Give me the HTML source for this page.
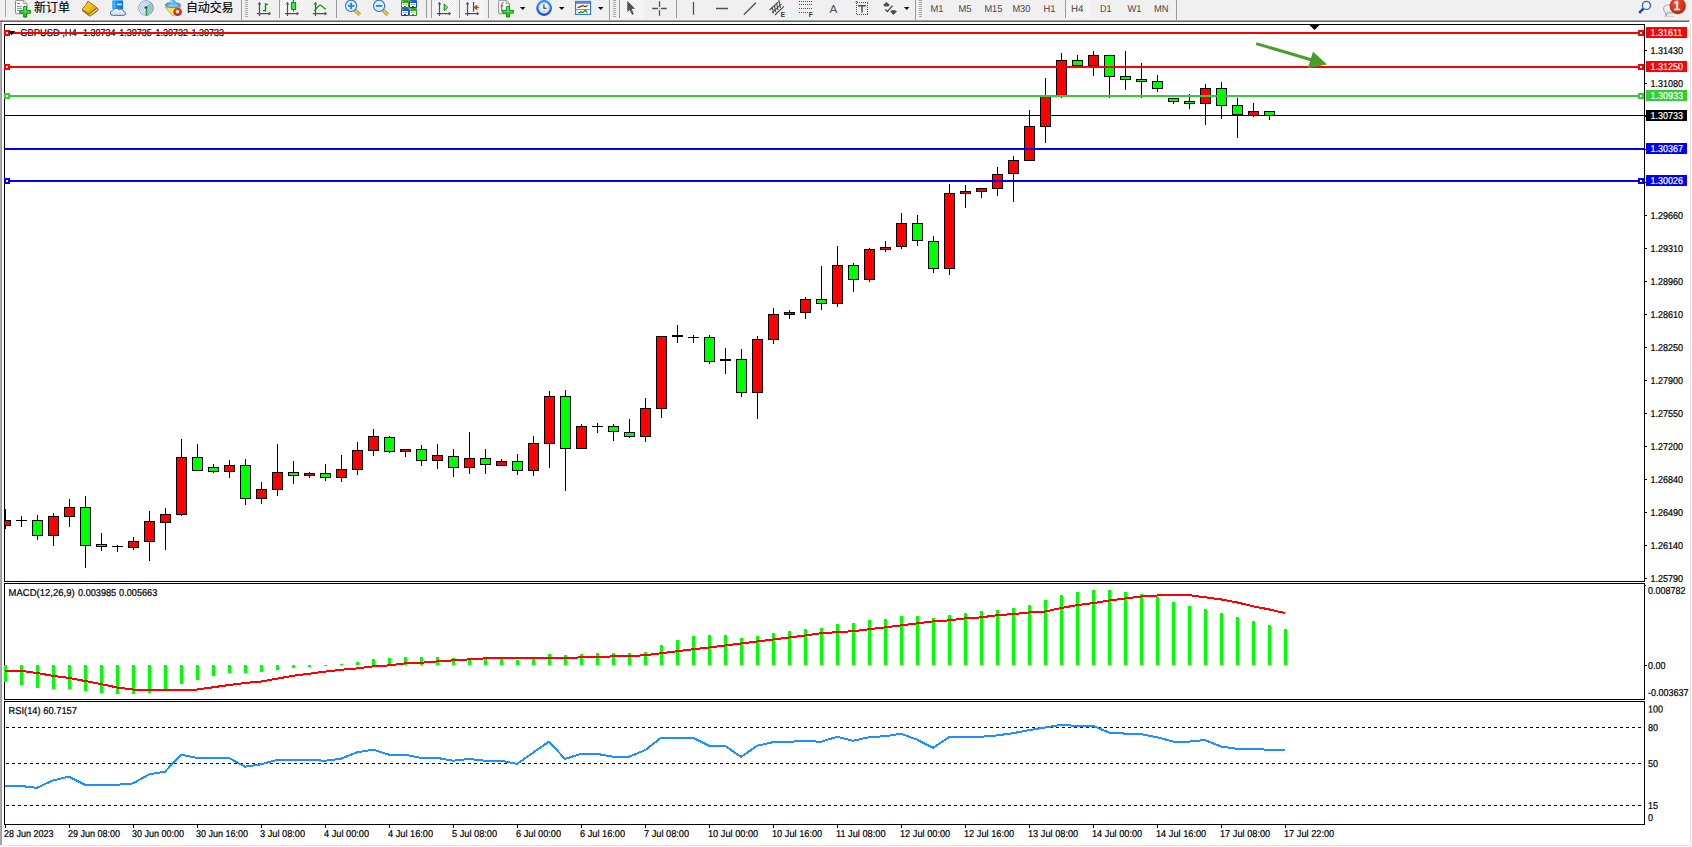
<!DOCTYPE html>
<html><head><meta charset="utf-8"><title>GBPUSD,H4</title>
<style>
html,body{margin:0;padding:0;background:#fff;overflow:hidden}
body{width:1692px;height:847px}
svg{display:block}
text{font-family:"Liberation Sans","Noto Sans CJK SC",sans-serif;white-space:pre}
</style></head><body>
<svg width="1692" height="847" viewBox="0 0 1692 847">
<rect x="0" y="0" width="1692" height="847" fill="#fff"/>
<rect x="0" y="0" width="1692" height="20" fill="#f0f0f0"/>
<rect x="0" y="19" width="1692" height="1" fill="#f5f5f5"/>
<rect x="0" y="20" width="1690" height="1" fill="#a0a0a0"/>
<rect x="0" y="21" width="1689" height="1" fill="#696969"/>
<rect x="0" y="22" width="1" height="823" fill="#ababab"/>
<rect x="1" y="22" width="1" height="823" fill="#999"/>
<rect x="1690" y="22" width="1" height="824" fill="#e3e3e3"/>
<rect x="2" y="845" width="1689" height="1" fill="#e3e3e3"/>
<defs>
<pattern id="chk" width="2" height="2" patternUnits="userSpaceOnUse"><rect width="2" height="2" fill="#fff"/><rect width="1" height="1" fill="#ececec"/><rect x="1" y="1" width="1" height="1" fill="#ececec"/></pattern>
<linearGradient id="gplus" x1="0" y1="0" x2="0" y2="1"><stop offset="0" stop-color="#7cf27c"/><stop offset="1" stop-color="#10c010"/></linearGradient>
<linearGradient id="ggold" x1="0" y1="0" x2="1" y2="1"><stop offset="0" stop-color="#f8d848"/><stop offset=".5" stop-color="#f0c010"/><stop offset="1" stop-color="#c08818"/></linearGradient>
<linearGradient id="gcloud" x1="0" y1="0" x2="0" y2="1"><stop offset="0" stop-color="#ffffff"/><stop offset="1" stop-color="#c4d4ec"/></linearGradient>
<linearGradient id="gblue" x1="0" y1="0" x2="1" y2="0"><stop offset="0" stop-color="#18a0ff"/><stop offset="1" stop-color="#1070e0"/></linearGradient>
<radialGradient id="gsig" cx=".5" cy=".5" r=".5"><stop offset="0" stop-color="#ffffff"/><stop offset="1" stop-color="#e4ecf4"/></radialGradient>
<linearGradient id="gtb" x1="0" y1="0" x2="0" y2="1"><stop offset="0" stop-color="#2a62d8"/><stop offset="1" stop-color="#1838a8"/></linearGradient>
<linearGradient id="gtg" x1="0" y1="0" x2="0" y2="1"><stop offset="0" stop-color="#46a81e"/><stop offset="1" stop-color="#2c8a10"/></linearGradient>
<radialGradient id="gred" cx=".4" cy=".3" r=".7"><stop offset="0" stop-color="#f05030"/><stop offset="1" stop-color="#c82010"/></radialGradient>
</defs>
<rect x="5" y="0" width="1" height="17" fill="#a8a8a8" shape-rendering="crispEdges"/>
<path d="M15.5,1.2q0,-.8 .8,-.8h7.4l3.3,3.3v9.2q0,.8 -.8,.8h-9.9q-.8,0 -.8,-.8z" fill="#fff" stroke="#8a8a8a" stroke-width="1"/>
<path d="M23.7,.6v3h3" fill="#e8e8e8" stroke="#8a8a8a" stroke-width=".8"/>
<g fill="#9a9a9a" shape-rendering="crispEdges"><rect x="17" y="2.5" width="3" height="1.5" fill="#888"/><rect x="17" y="6" width="5" height="1"/><rect x="17" y="8" width="5" height="1"/><rect x="17" y="10" width="3" height="1"/></g>
<path d="M23.700000000000003,6.5h2.8v3.9h3.9v2.8h-3.9v3.9h-2.8v-3.9h-3.9v-2.8h3.9z" fill="url(#gplus)" stroke="#0c8c0c" stroke-width="1" stroke-linejoin="round"/>
<text x="34" y="11.6" font-size="12" fill="#000" stroke="#000" stroke-width=".15" id="cn1">新订单</text>
<path d="M96.9,7.8L98.2,9.4Q98.4,10 97.6,10.7L90.4,15.9Q89.6,16.3 88.9,15.7L82.6,10.8L83,9.6L88.9,14z" fill="#d8a428" stroke="#9a5a08" stroke-width=".9" stroke-linejoin="round"/>
<path d="M87.9,1.1L96.9,7.7L88.9,14L82.3,9.6Q81.9,9 82.6,8.5Q86.4,5.6 87.9,1.1z" fill="url(#ggold)" stroke="#9a5a08" stroke-width=".9" stroke-linejoin="round"/>
<path d="M97.4,9.2L89.6,14.9" fill="none" stroke="#f8e8a8" stroke-width=".7"/>
<path d="M112.4,0.4h10.6v8.6h-10.6z" fill="url(#gblue)"/><path d="M112.4,0.4l3,1.8v6.8h-3z" fill="#38b0ff"/><rect x="117" y="3.6" width="5" height="1.6" fill="#d8ecff"/>
<path d="M113.5,15.4q-3.2,0 -3.2,-2.4q0,-2 2.4,-2.2q.6,-2.4 3.4,-2.4q2,0 3,1.4q.9,-.7 2.2,-.5q2.2,.3 2.4,2.3q2,.4 2,2q0,1.8 -2.4,1.8z" fill="url(#gcloud)" stroke="#5070a8" stroke-width="1"/>
<circle cx="146" cy="8" r="7.6" fill="url(#gsig)"/>
<path d="M146,8 L146,15.6 A7.6,7.6 0 0 0 153.6,8 A7.6,7.6 0 0 0 150,1.6 Z" fill="#8cc08c" opacity=".55"/>
<g fill="none" stroke="#3a6ed0" stroke-width="1"><circle cx="146" cy="8" r="7.3" opacity=".6"/><circle cx="146" cy="8" r="5.2" opacity=".4"/><circle cx="146" cy="8" r="3.3" opacity=".4"/></g>
<circle cx="146" cy="7.6" r="1.7" fill="#2050c8"/><rect x="145.8" y="8" width="1.4" height="7.6" fill="#20a020"/>
<path d="M165,7.2L181,6.4L174,15.6Q173.3,16.2 172.4,15.6z" fill="#f8e060" stroke="#d0a010" stroke-width=".9" stroke-linejoin="round"/>
<ellipse cx="172.9" cy="5" rx="8" ry="3.1" fill="#3f9fd2"/><path d="M168.8,4.6Q169.4,-.4 172.8,-.4Q176.2,-.4 176.8,4.6z" fill="#58b4e2"/><ellipse cx="172.9" cy="5.6" rx="5.4" ry="1.5" fill="#8ad2f4" opacity=".75"/><ellipse cx="171.6" cy="1.8" rx="1.6" ry="1" fill="#b8e4f8" opacity=".7"/>
<circle cx="177.6" cy="11.7" r="4.3" fill="url(#gred)"/><rect x="176.1" y="10.2" width="3" height="3" fill="#fff"/>
<text x="186" y="11.6" font-size="12" fill="#000" stroke="#000" stroke-width=".15" id="cn2" textLength="47.6">自动交易</text>
<rect x="241" y="0" width="1" height="20" fill="#9a9a9a" shape-rendering="crispEdges"/>
<rect x="245" y="0" width="3" height="1" fill="#a6a6a6" shape-rendering="crispEdges"/>
<rect x="245" y="2" width="3" height="1" fill="#a6a6a6" shape-rendering="crispEdges"/>
<rect x="245" y="4" width="3" height="1" fill="#a6a6a6" shape-rendering="crispEdges"/>
<rect x="245" y="6" width="3" height="1" fill="#a6a6a6" shape-rendering="crispEdges"/>
<rect x="245" y="8" width="3" height="1" fill="#a6a6a6" shape-rendering="crispEdges"/>
<rect x="245" y="10" width="3" height="1" fill="#a6a6a6" shape-rendering="crispEdges"/>
<rect x="245" y="12" width="3" height="1" fill="#a6a6a6" shape-rendering="crispEdges"/>
<rect x="245" y="14" width="3" height="1" fill="#a6a6a6" shape-rendering="crispEdges"/>
<rect x="245" y="16" width="3" height="1" fill="#a6a6a6" shape-rendering="crispEdges"/>
<g stroke="#505050" stroke-width="1.2" fill="none"><path d="M259.5,2.6V16M256.9,13.6H270.1"/></g>
<polygon points="257.7,4.6 259.5,2 261.3,4.6" fill="#505050"/><polygon points="268.7,11.8 271.1,13.6 268.7,15.4" fill="#505050"/>
<path d="M265.5,3.2V11.6M265.5,4.4H268M263,10.6H265.5" stroke="#0a8a0a" stroke-width="1.4" fill="none"/>
<rect x="279" y="0" width="1" height="18" fill="#9a9a9a" shape-rendering="crispEdges"/>
<rect x="280" y="0" width="24" height="18" fill="url(#chk)"/>
<g stroke="#505050" stroke-width="1.2" fill="none"><path d="M287.5,2.6V16M284.9,13.6H298.1"/></g>
<polygon points="285.7,4.6 287.5,2 289.3,4.6" fill="#505050"/><polygon points="296.7,11.8 299.1,13.6 296.7,15.4" fill="#505050"/>
<rect x="292.9" y="0" width="1.2" height="11.6" fill="#0a8a0a"/><rect x="291.4" y="2.6" width="4.2" height="6.8" fill="#40e840" stroke="#0a8a0a" stroke-width="1"/>
<g stroke="#505050" stroke-width="1.2" fill="none"><path d="M315.5,2.6V16M312.9,13.6H326.1"/></g>
<polygon points="313.7,4.6 315.5,2 317.3,4.6" fill="#505050"/><polygon points="324.7,11.8 327.1,13.6 324.7,15.4" fill="#505050"/>
<path d="M314.2,10.8C316.5,9.5 318,5.2 320.2,5.2C322,5.2 323.5,8.4 326,9.2" stroke="#1a901a" stroke-width="1.3" fill="none"/>
<rect x="336" y="0" width="1" height="18" fill="#9a9a9a" shape-rendering="crispEdges"/>
<path d="M354.90000000000003,10.2L359.90000000000003,14.6" stroke="#b08818" stroke-width="3.4" stroke-linecap="butt"/><path d="M354.90000000000003,10.2L359.90000000000003,14.6" stroke="#f0d040" stroke-width="1.8"/>
<circle cx="351.1" cy="5.9" r="5.6" fill="#d4eefc" stroke="#2e74c4" stroke-width="1.1"/>
<rect x="347.90000000000003" y="5" width="6.4" height="1.8" fill="#3a82b4"/>
<rect x="350.20000000000005" y="2.7" width="1.8" height="6.4" fill="#3a82b4"/>
<path d="M382.90000000000003,10.2L387.90000000000003,14.6" stroke="#b08818" stroke-width="3.4" stroke-linecap="butt"/><path d="M382.90000000000003,10.2L387.90000000000003,14.6" stroke="#f0d040" stroke-width="1.8"/>
<circle cx="379.1" cy="5.9" r="5.6" fill="#d4eefc" stroke="#2e74c4" stroke-width="1.1"/>
<rect x="375.90000000000003" y="5" width="6.4" height="1.8" fill="#3a82b4"/>
<rect x="401" y="0" width="8" height="8" rx="1" fill="url(#gtg)"/><g shape-rendering="crispEdges"><rect x="402" y="3" width="6" height="4" fill="#fff"/><rect x="403" y="4" width="4" height="1" fill="#a0d890"/><rect x="404" y="6" width="2" height="1" fill="url(#gtg)"/><rect x="402" y="1" width="1" height="1" fill="#fff" opacity=".75"/></g>
<rect x="409" y="0" width="8" height="8" rx="1" fill="url(#gtb)"/><g shape-rendering="crispEdges"><rect x="410" y="3" width="6" height="4" fill="#fff"/><rect x="411" y="4" width="4" height="1" fill="#90a8f0"/><rect x="412" y="6" width="2" height="1" fill="url(#gtb)"/><rect x="410" y="1" width="1" height="1" fill="#fff" opacity=".75"/></g>
<rect x="401" y="8" width="8" height="8" rx="1" fill="url(#gtb)"/><g shape-rendering="crispEdges"><rect x="402" y="11" width="6" height="4" fill="#fff"/><rect x="403" y="12" width="4" height="1" fill="#90a8f0"/><rect x="404" y="14" width="2" height="1" fill="url(#gtb)"/><rect x="402" y="9" width="1" height="1" fill="#fff" opacity=".75"/></g>
<rect x="409" y="8" width="8" height="8" rx="1" fill="url(#gtg)"/><g shape-rendering="crispEdges"><rect x="410" y="11" width="6" height="4" fill="#fff"/><rect x="411" y="12" width="4" height="1" fill="#a0d890"/><rect x="412" y="14" width="2" height="1" fill="url(#gtg)"/><rect x="410" y="9" width="1" height="1" fill="#fff" opacity=".75"/></g>
<rect x="426" y="0" width="1" height="18" fill="#9a9a9a" shape-rendering="crispEdges"/>
<rect x="431" y="0" width="1" height="18" fill="#9a9a9a" shape-rendering="crispEdges"/>
<rect x="432" y="0" width="24" height="18" fill="url(#chk)"/>
<g stroke="#505050" stroke-width="1.2" fill="none"><path d="M439.5,2.6V16M436.9,13.6H450.1"/></g>
<polygon points="437.7,4.6 439.5,2 441.3,4.6" fill="#505050"/><polygon points="448.7,11.8 451.1,13.6 448.7,15.4" fill="#505050"/>
<polygon points="444.2,4 444.2,10.8 447.8,7.4" fill="#80e880" stroke="#0a900a" stroke-width="1"/>
<rect x="459" y="0" width="1" height="18" fill="#9a9a9a" shape-rendering="crispEdges"/>
<rect x="460" y="0" width="24" height="18" fill="url(#chk)"/>
<g stroke="#505050" stroke-width="1.2" fill="none"><path d="M467.5,2.6V16M464.9,13.6H478.1"/></g>
<polygon points="465.7,4.6 467.5,2 469.3,4.6" fill="#505050"/><polygon points="476.7,11.8 479.1,13.6 476.7,15.4" fill="#505050"/>
<rect x="472.9" y="2" width="1.3" height="9.8" fill="#1464a4"/><path d="M474.4,7.4H479M477,5.2L474.6,7.4L477,9.6" stroke="#d04000" stroke-width="1.2" fill="none"/><polygon points="474.3,7.4 477.2,5.3 477.2,9.5" fill="#d04000"/>
<rect x="488" y="0" width="1" height="18" fill="#9a9a9a" shape-rendering="crispEdges"/>
<path d="M498.7,1.1q0,-.8 .8,-.8h6.6l3.4,3.3v9.4q0,.8 -.8,.8h-9.2q-.8,0 -.8,-.8z" fill="#fff" stroke="#8a8a8a" stroke-width="1"/><path d="M506,.5v3.2h3.2" fill="#eee" stroke="#8a8a8a" stroke-width=".8"/>
<path d="M503.6,2.6q-1.6,-.2 -1.8,1.6v7.4M500.6,6h2.6" stroke="#605030" stroke-width="1" fill="none"/>
<path d="M506.59999999999997,6.4h2.8v3.9h3.9v2.8h-3.9v3.9h-2.8v-3.9h-3.9v-2.8h3.9z" fill="url(#gplus)" stroke="#0c8c0c" stroke-width="1" stroke-linejoin="round"/>
<polygon points="520,7 525.4,7 522.7,10" fill="#000"/>
<defs><linearGradient id="gclk" x1="0" y1="0" x2="0" y2="1"><stop offset="0" stop-color="#3a98ff"/><stop offset="1" stop-color="#0a4ab8"/></linearGradient><radialGradient id="gface" cx=".5" cy=".4" r=".6"><stop offset="0" stop-color="#ffffff"/><stop offset="1" stop-color="#d4deee"/></radialGradient></defs>
<rect x="542.6" y="-.4" width="3" height="1.6" rx=".5" fill="#1464d0"/><circle cx="544.1" cy="8" r="7.9" fill="url(#gclk)"/><circle cx="544.1" cy="8" r="5.7" fill="url(#gface)"/>
<circle cx="544.1" cy="8" r="4.7" fill="none" stroke="#8a94a8" stroke-width=".9" stroke-dasharray=".6 1.86"/><path d="M543.9,4.6V8.3H546.6" stroke="#222" stroke-width="1.1" fill="none"/><rect x="543.2" y="10.6" width="1.8" height=".7" fill="#60a0f0" opacity=".8"/>
<polygon points="559,7 564.4,7 561.7,10" fill="#000"/>
<rect x="575.6" y="1.4" width="15" height="13" fill="#fff" stroke="#3272c8" stroke-width="1.1"/><rect x="576" y="1.4" width="14.2" height="2.4" fill="#4a90e0"/><rect x="576" y="9.2" width="14.2" height=".8" fill="#3c7cd0"/>
<path d="M577.6,7.4h1.6l1.4,-1.2h1.2l1.2,-.8l1.6,1h1.4l1.6,-1" stroke="#a82000" stroke-width="1.2" fill="none"/><path d="M578.4,12.6h1.4l1.2,-.9l1.6,.9l2.2,-1.9h1l1.6,1.9" stroke="#0a8a1a" stroke-width="1.2" fill="none"/>
<polygon points="598,7 603.4,7 600.7,10" fill="#000"/>
<rect x="609" y="0" width="1" height="20" fill="#9a9a9a" shape-rendering="crispEdges"/>
<rect x="613" y="0" width="3" height="1" fill="#a6a6a6" shape-rendering="crispEdges"/>
<rect x="613" y="2" width="3" height="1" fill="#a6a6a6" shape-rendering="crispEdges"/>
<rect x="613" y="4" width="3" height="1" fill="#a6a6a6" shape-rendering="crispEdges"/>
<rect x="613" y="6" width="3" height="1" fill="#a6a6a6" shape-rendering="crispEdges"/>
<rect x="613" y="8" width="3" height="1" fill="#a6a6a6" shape-rendering="crispEdges"/>
<rect x="613" y="10" width="3" height="1" fill="#a6a6a6" shape-rendering="crispEdges"/>
<rect x="613" y="12" width="3" height="1" fill="#a6a6a6" shape-rendering="crispEdges"/>
<rect x="613" y="14" width="3" height="1" fill="#a6a6a6" shape-rendering="crispEdges"/>
<rect x="613" y="16" width="3" height="1" fill="#a6a6a6" shape-rendering="crispEdges"/>
<rect x="619" y="0" width="1" height="18" fill="#9a9a9a" shape-rendering="crispEdges"/>
<rect x="620" y="0" width="24" height="18" fill="url(#chk)"/>
<polygon points="627.3,.8 627.3,11.9 629.8,9.9 632.1,14.9 633.9,14 631.6,9 635.1,8.7" fill="#505050"/>
<path d="M652.2,8.5H658M661,8.5H666.8M659.5,1.2V7M659.5,10V15.8" stroke="#505050" stroke-width="1.3" fill="none"/><rect x="659" y="8" width="1" height="1" fill="#505050" opacity=".6"/>
<rect x="676" y="0" width="1" height="18" fill="#9a9a9a" shape-rendering="crispEdges"/>
<path d="M693.5,2.1V14.8M716,8.5H728M743.8,14.8L755.9,2.7" stroke="#505050" stroke-width="1.3" fill="none"/>
<g stroke="#484848" fill="none"><path d="M769.6,10L778.4,1.8M772.2,12.6L781.2,4.2M775,15L783.8,6.4" stroke-width="1.15"/><path d="M772.2,7L773.6,13.4M774.4,5L775.8,12M776.6,3L778,10M778.9,0L780.4,8" stroke-width="1.1"/></g>
<text x="780.8" y="16.7" font-size="6.4" font-weight="bold" fill="#333">E</text>
<rect x="799" y="1" width="1" height="1" fill="#505050" shape-rendering="crispEdges"/>
<rect x="801" y="1" width="1" height="1" fill="#505050" shape-rendering="crispEdges"/>
<rect x="803" y="1" width="1" height="1" fill="#505050" shape-rendering="crispEdges"/>
<rect x="805" y="1" width="1" height="1" fill="#505050" shape-rendering="crispEdges"/>
<rect x="807" y="1" width="1" height="1" fill="#505050" shape-rendering="crispEdges"/>
<rect x="809" y="1" width="1" height="1" fill="#505050" shape-rendering="crispEdges"/>
<rect x="811" y="1" width="1" height="1" fill="#505050" shape-rendering="crispEdges"/>
<rect x="799" y="4" width="1" height="1" fill="#505050" shape-rendering="crispEdges"/>
<rect x="801" y="4" width="1" height="1" fill="#505050" shape-rendering="crispEdges"/>
<rect x="803" y="4" width="1" height="1" fill="#505050" shape-rendering="crispEdges"/>
<rect x="805" y="4" width="1" height="1" fill="#505050" shape-rendering="crispEdges"/>
<rect x="807" y="4" width="1" height="1" fill="#505050" shape-rendering="crispEdges"/>
<rect x="809" y="4" width="1" height="1" fill="#505050" shape-rendering="crispEdges"/>
<rect x="811" y="4" width="1" height="1" fill="#505050" shape-rendering="crispEdges"/>
<rect x="799" y="8" width="1" height="1" fill="#505050" shape-rendering="crispEdges"/>
<rect x="801" y="8" width="1" height="1" fill="#505050" shape-rendering="crispEdges"/>
<rect x="803" y="8" width="1" height="1" fill="#505050" shape-rendering="crispEdges"/>
<rect x="805" y="8" width="1" height="1" fill="#505050" shape-rendering="crispEdges"/>
<rect x="807" y="8" width="1" height="1" fill="#505050" shape-rendering="crispEdges"/>
<rect x="809" y="8" width="1" height="1" fill="#505050" shape-rendering="crispEdges"/>
<rect x="811" y="8" width="1" height="1" fill="#505050" shape-rendering="crispEdges"/>
<rect x="799" y="12" width="1" height="1" fill="#505050" shape-rendering="crispEdges"/>
<rect x="801" y="12" width="1" height="1" fill="#505050" shape-rendering="crispEdges"/>
<rect x="803" y="12" width="1" height="1" fill="#505050" shape-rendering="crispEdges"/>
<rect x="805" y="12" width="1" height="1" fill="#505050" shape-rendering="crispEdges"/>
<rect x="807" y="12" width="1" height="1" fill="#505050" shape-rendering="crispEdges"/>
<text x="808.8" y="16.5" font-size="6.4" font-weight="bold" fill="#333">F</text>
<text x="829.6" y="12.8" font-size="11.8" fill="#505050" textLength="7.8" lengthAdjust="spacingAndGlyphs">A</text>
<rect x="857" y="2" width="1" height="1" fill="#505050" shape-rendering="crispEdges"/><rect x="857" y="14" width="1" height="1" fill="#505050" shape-rendering="crispEdges"/>
<rect x="859" y="2" width="1" height="1" fill="#505050" shape-rendering="crispEdges"/><rect x="859" y="14" width="1" height="1" fill="#505050" shape-rendering="crispEdges"/>
<rect x="861" y="2" width="1" height="1" fill="#505050" shape-rendering="crispEdges"/><rect x="861" y="14" width="1" height="1" fill="#505050" shape-rendering="crispEdges"/>
<rect x="863" y="2" width="1" height="1" fill="#505050" shape-rendering="crispEdges"/><rect x="863" y="14" width="1" height="1" fill="#505050" shape-rendering="crispEdges"/>
<rect x="865" y="2" width="1" height="1" fill="#505050" shape-rendering="crispEdges"/><rect x="865" y="14" width="1" height="1" fill="#505050" shape-rendering="crispEdges"/>
<rect x="867" y="2" width="1" height="1" fill="#505050" shape-rendering="crispEdges"/><rect x="867" y="14" width="1" height="1" fill="#505050" shape-rendering="crispEdges"/>
<rect x="856" y="3" width="1" height="1" fill="#505050" shape-rendering="crispEdges"/><rect x="867" y="3" width="1" height="1" fill="#505050" shape-rendering="crispEdges"/>
<rect x="856" y="5" width="1" height="1" fill="#505050" shape-rendering="crispEdges"/><rect x="867" y="5" width="1" height="1" fill="#505050" shape-rendering="crispEdges"/>
<rect x="856" y="7" width="1" height="1" fill="#505050" shape-rendering="crispEdges"/><rect x="867" y="7" width="1" height="1" fill="#505050" shape-rendering="crispEdges"/>
<rect x="856" y="9" width="1" height="1" fill="#505050" shape-rendering="crispEdges"/><rect x="867" y="9" width="1" height="1" fill="#505050" shape-rendering="crispEdges"/>
<rect x="856" y="11" width="1" height="1" fill="#505050" shape-rendering="crispEdges"/><rect x="867" y="11" width="1" height="1" fill="#505050" shape-rendering="crispEdges"/>
<rect x="856" y="13" width="1" height="1" fill="#505050" shape-rendering="crispEdges"/><rect x="867" y="13" width="1" height="1" fill="#505050" shape-rendering="crispEdges"/>
<rect x="855.6" y="1.2" width="2" height="1.2" fill="#505050"/><path d="M858,5.7H866M862,5.7V12.6" stroke="#505050" stroke-width="1.5" fill="none"/>
<polygon points="886.5,2 889.9,5.1 888.1,6.6 884.9,6.6 883.1,5.1" fill="#505050"/><polygon points="893.5,14.9 896.9,11.6 895.1,10.2 891.9,10.2 890.1,11.6" fill="#505050"/><path d="M885.2,9.4L887.4,11.4L892.6,5.6" stroke="#505050" stroke-width="1.4" fill="none"/>
<polygon points="904,7 909.4,7 906.7,10" fill="#000"/>
<rect x="915" y="0" width="1" height="20" fill="#9a9a9a" shape-rendering="crispEdges"/>
<rect x="919" y="0" width="3" height="1" fill="#a6a6a6" shape-rendering="crispEdges"/>
<rect x="919" y="2" width="3" height="1" fill="#a6a6a6" shape-rendering="crispEdges"/>
<rect x="919" y="4" width="3" height="1" fill="#a6a6a6" shape-rendering="crispEdges"/>
<rect x="919" y="6" width="3" height="1" fill="#a6a6a6" shape-rendering="crispEdges"/>
<rect x="919" y="8" width="3" height="1" fill="#a6a6a6" shape-rendering="crispEdges"/>
<rect x="919" y="10" width="3" height="1" fill="#a6a6a6" shape-rendering="crispEdges"/>
<rect x="919" y="12" width="3" height="1" fill="#a6a6a6" shape-rendering="crispEdges"/>
<rect x="919" y="14" width="3" height="1" fill="#a6a6a6" shape-rendering="crispEdges"/>
<rect x="919" y="16" width="3" height="1" fill="#a6a6a6" shape-rendering="crispEdges"/>
<text transform="translate(930.4,12) rotate(0.05) scale(0.9358,1)" font-size="10" fill="#444">M1</text>
<text transform="translate(958.4,12) rotate(0.05) scale(0.9358,1)" font-size="10" fill="#444">M5</text>
<text transform="translate(984.4,12) rotate(0.05) scale(0.9253,1)" font-size="10" fill="#444">M15</text>
<text transform="translate(1012.4,12) rotate(0.05) scale(0.9253,1)" font-size="10" fill="#444">M30</text>
<text transform="translate(1043.4,12) rotate(0.05) scale(0.9387,1)" font-size="10" fill="#444">H1</text>
<rect x="1065" y="0" width="1" height="18" fill="#9a9a9a" shape-rendering="crispEdges"/>
<rect x="1066" y="0" width="24" height="18" fill="url(#chk)"/>
<text transform="translate(1070.9,12) rotate(0.05) scale(0.9778,1)" font-size="10" fill="#444">H4</text>
<text transform="translate(1099.9,12) rotate(0.05) scale(0.8996,1)" font-size="10" fill="#444">D1</text>
<text transform="translate(1127.4,12) rotate(0.05) scale(0.9333,1)" font-size="10" fill="#444">W1</text>
<text transform="translate(1153.9,12) rotate(0.05) scale(0.9324,1)" font-size="10" fill="#444">MN</text>
<rect x="1176" y="0" width="1" height="20" fill="#9a9a9a" shape-rendering="crispEdges"/>
<circle cx="1646.4" cy="5.4" r="4" fill="#f4f4fa" stroke="#2a5ed8" stroke-width="1.3"/><path d="M1643.4,8.6L1639.2,12.8" stroke="#1c48c0" stroke-width="2.6" stroke-linecap="butt"/>
<defs><linearGradient id="gbub" x1="0" y1="0" x2="0" y2="1"><stop offset="0" stop-color="#fdfdfd"/><stop offset="1" stop-color="#cfcfd8"/></linearGradient></defs>
<ellipse cx="1669" cy="16.4" rx="5.5" ry=".7" fill="#c8c8c8" opacity=".7"/>
<path d="M1663.6,9q0,-4 5,-4h3.4q5,0 5,4t-5,4h-4.4l-1.6,3.4l-.5,-3.7q-1.9,-1 -1.9,-3.7z" fill="url(#gbub)" stroke="#a4a4a4" stroke-width="1"/>
<circle cx="1677.7" cy="6" r="8.2" fill="url(#gred)"/><text x="1673.6" y="9.9" font-size="12.4" fill="#fff" stroke="#fff" stroke-width=".55">1</text>
<g shape-rendering="crispEdges">
<rect x="4" y="24" width="1641" height="1" fill="#000"/>
<rect x="4" y="581" width="1641" height="1" fill="#000"/>
<rect x="4" y="24" width="1" height="558" fill="#000"/>
<rect x="1644" y="24" width="1" height="558" fill="#000"/>
<rect x="4" y="583" width="1641" height="1" fill="#000"/>
<rect x="4" y="699" width="1641" height="1" fill="#000"/>
<rect x="4" y="583" width="1" height="117" fill="#000"/>
<rect x="1644" y="583" width="1" height="117" fill="#000"/>
<rect x="4" y="701" width="1641" height="1" fill="#000"/>
<rect x="4" y="824" width="1641" height="1" fill="#000"/>
<rect x="4" y="701" width="1" height="124" fill="#000"/>
<rect x="1644" y="701" width="1" height="124" fill="#000"/>
</g>
<text transform="translate(20.3,36) rotate(0.05) scale(0.9344,1)" font-size="10" fill="#000" stroke="#000" stroke-width="0.22">GBPUSD ,H4</text>
<text transform="translate(83.1,36) rotate(0.05) scale(0.9000,1)" font-size="10" fill="#000" stroke="#000" stroke-width="0.22">1.30734</text>
<text transform="translate(119.3,36) rotate(0.05) scale(0.9000,1)" font-size="10" fill="#000" stroke="#000" stroke-width="0.22">1.30735</text>
<text transform="translate(155.4,36) rotate(0.05) scale(0.9000,1)" font-size="10" fill="#000" stroke="#000" stroke-width="0.22">1.30732</text>
<text transform="translate(191.6,36) rotate(0.05) scale(0.9000,1)" font-size="10" fill="#000" stroke="#000" stroke-width="0.22">1.30733</text>
<polygon points="1309.5,25 1319.5,25 1314.5,30" fill="#000"/>
<defs><clipPath id="cp"><rect x="5" y="25" width="1639" height="556"/></clipPath></defs>
<g shape-rendering="crispEdges" clip-path="url(#cp)">
<rect x="5" y="115" width="1639" height="1" fill="#000"/>
<rect x="5" y="509" width="1" height="20" fill="#000"/>
<rect x="0" y="520" width="11" height="6" fill="#000"/>
<rect x="1" y="521" width="9" height="4" fill="#ff0000"/>
<rect x="21" y="516" width="1" height="11" fill="#000"/>
<rect x="16" y="520" width="11" height="1" fill="#000"/>
<rect x="37" y="515" width="1" height="25" fill="#000"/>
<rect x="32" y="520" width="11" height="16" fill="#000"/>
<rect x="33" y="521" width="9" height="14" fill="#00ff00"/>
<rect x="53" y="513" width="1" height="33" fill="#000"/>
<rect x="48" y="516" width="11" height="20" fill="#000"/>
<rect x="49" y="517" width="9" height="18" fill="#ff0000"/>
<rect x="69" y="499" width="1" height="28" fill="#000"/>
<rect x="64" y="507" width="11" height="10" fill="#000"/>
<rect x="65" y="508" width="9" height="8" fill="#ff0000"/>
<rect x="85" y="496" width="1" height="72" fill="#000"/>
<rect x="80" y="507" width="11" height="39" fill="#000"/>
<rect x="81" y="508" width="9" height="37" fill="#00ff00"/>
<rect x="101" y="533" width="1" height="18" fill="#000"/>
<rect x="96" y="544" width="11" height="3" fill="#000"/>
<rect x="97" y="545" width="9" height="1" fill="#00ff00"/>
<rect x="117" y="545" width="1" height="7" fill="#000"/>
<rect x="112" y="546" width="11" height="1" fill="#000"/>
<rect x="133" y="537" width="1" height="13" fill="#000"/>
<rect x="128" y="541" width="11" height="7" fill="#000"/>
<rect x="129" y="542" width="9" height="5" fill="#ff0000"/>
<rect x="149" y="511" width="1" height="50" fill="#000"/>
<rect x="144" y="521" width="11" height="21" fill="#000"/>
<rect x="145" y="522" width="9" height="19" fill="#ff0000"/>
<rect x="165" y="508" width="1" height="42" fill="#000"/>
<rect x="160" y="514" width="11" height="9" fill="#000"/>
<rect x="161" y="515" width="9" height="7" fill="#ff0000"/>
<rect x="181" y="439" width="1" height="77" fill="#000"/>
<rect x="176" y="457" width="11" height="58" fill="#000"/>
<rect x="177" y="458" width="9" height="56" fill="#ff0000"/>
<rect x="197" y="444" width="1" height="27" fill="#000"/>
<rect x="192" y="457" width="11" height="14" fill="#000"/>
<rect x="193" y="458" width="9" height="12" fill="#00ff00"/>
<rect x="213" y="464" width="1" height="9" fill="#000"/>
<rect x="208" y="467" width="11" height="5" fill="#000"/>
<rect x="209" y="468" width="9" height="3" fill="#00ff00"/>
<rect x="229" y="460" width="1" height="18" fill="#000"/>
<rect x="224" y="465" width="11" height="7" fill="#000"/>
<rect x="225" y="466" width="9" height="5" fill="#ff0000"/>
<rect x="245" y="459" width="1" height="46" fill="#000"/>
<rect x="240" y="465" width="11" height="34" fill="#000"/>
<rect x="241" y="466" width="9" height="32" fill="#00ff00"/>
<rect x="261" y="482" width="1" height="22" fill="#000"/>
<rect x="256" y="489" width="11" height="10" fill="#000"/>
<rect x="257" y="490" width="9" height="8" fill="#ff0000"/>
<rect x="277" y="444" width="1" height="52" fill="#000"/>
<rect x="272" y="472" width="11" height="18" fill="#000"/>
<rect x="273" y="473" width="9" height="16" fill="#ff0000"/>
<rect x="293" y="461" width="1" height="23" fill="#000"/>
<rect x="288" y="472" width="11" height="4" fill="#000"/>
<rect x="289" y="473" width="9" height="2" fill="#00ff00"/>
<rect x="309" y="472" width="1" height="6" fill="#000"/>
<rect x="304" y="473" width="11" height="3" fill="#000"/>
<rect x="305" y="474" width="9" height="1" fill="#ff0000"/>
<rect x="325" y="464" width="1" height="17" fill="#000"/>
<rect x="320" y="473" width="11" height="5" fill="#000"/>
<rect x="321" y="474" width="9" height="3" fill="#00ff00"/>
<rect x="341" y="455" width="1" height="27" fill="#000"/>
<rect x="336" y="469" width="11" height="9" fill="#000"/>
<rect x="337" y="470" width="9" height="7" fill="#ff0000"/>
<rect x="357" y="442" width="1" height="33" fill="#000"/>
<rect x="352" y="450" width="11" height="20" fill="#000"/>
<rect x="353" y="451" width="9" height="18" fill="#ff0000"/>
<rect x="373" y="429" width="1" height="27" fill="#000"/>
<rect x="368" y="436" width="11" height="15" fill="#000"/>
<rect x="369" y="437" width="9" height="13" fill="#ff0000"/>
<rect x="389" y="436" width="1" height="17" fill="#000"/>
<rect x="384" y="437" width="11" height="15" fill="#000"/>
<rect x="385" y="438" width="9" height="13" fill="#00ff00"/>
<rect x="405" y="449" width="1" height="8" fill="#000"/>
<rect x="400" y="449" width="11" height="3" fill="#000"/>
<rect x="401" y="450" width="9" height="1" fill="#ff0000"/>
<rect x="421" y="445" width="1" height="21" fill="#000"/>
<rect x="416" y="449" width="11" height="12" fill="#000"/>
<rect x="417" y="450" width="9" height="10" fill="#00ff00"/>
<rect x="437" y="444" width="1" height="25" fill="#000"/>
<rect x="432" y="455" width="11" height="6" fill="#000"/>
<rect x="433" y="456" width="9" height="4" fill="#ff0000"/>
<rect x="453" y="449" width="1" height="28" fill="#000"/>
<rect x="448" y="456" width="11" height="12" fill="#000"/>
<rect x="449" y="457" width="9" height="10" fill="#00ff00"/>
<rect x="469" y="432" width="1" height="42" fill="#000"/>
<rect x="464" y="458" width="11" height="10" fill="#000"/>
<rect x="465" y="459" width="9" height="8" fill="#ff0000"/>
<rect x="485" y="449" width="1" height="25" fill="#000"/>
<rect x="480" y="458" width="11" height="7" fill="#000"/>
<rect x="481" y="459" width="9" height="5" fill="#00ff00"/>
<rect x="501" y="459" width="1" height="7" fill="#000"/>
<rect x="496" y="461" width="11" height="5" fill="#000"/>
<rect x="497" y="462" width="9" height="3" fill="#ff0000"/>
<rect x="517" y="454" width="1" height="21" fill="#000"/>
<rect x="512" y="461" width="11" height="10" fill="#000"/>
<rect x="513" y="462" width="9" height="8" fill="#00ff00"/>
<rect x="533" y="436" width="1" height="40" fill="#000"/>
<rect x="528" y="443" width="11" height="28" fill="#000"/>
<rect x="529" y="444" width="9" height="26" fill="#ff0000"/>
<rect x="549" y="391" width="1" height="77" fill="#000"/>
<rect x="544" y="396" width="11" height="48" fill="#000"/>
<rect x="545" y="397" width="9" height="46" fill="#ff0000"/>
<rect x="565" y="390" width="1" height="101" fill="#000"/>
<rect x="560" y="396" width="11" height="53" fill="#000"/>
<rect x="561" y="397" width="9" height="51" fill="#00ff00"/>
<rect x="581" y="424" width="1" height="25" fill="#000"/>
<rect x="576" y="426" width="11" height="23" fill="#000"/>
<rect x="577" y="427" width="9" height="21" fill="#ff0000"/>
<rect x="597" y="423" width="1" height="10" fill="#000"/>
<rect x="592" y="426" width="11" height="1" fill="#000"/>
<rect x="613" y="424" width="1" height="17" fill="#000"/>
<rect x="608" y="426" width="11" height="6" fill="#000"/>
<rect x="609" y="427" width="9" height="4" fill="#00ff00"/>
<rect x="629" y="419" width="1" height="19" fill="#000"/>
<rect x="624" y="432" width="11" height="5" fill="#000"/>
<rect x="625" y="433" width="9" height="3" fill="#00ff00"/>
<rect x="645" y="398" width="1" height="44" fill="#000"/>
<rect x="640" y="408" width="11" height="29" fill="#000"/>
<rect x="641" y="409" width="9" height="27" fill="#ff0000"/>
<rect x="661" y="336" width="1" height="82" fill="#000"/>
<rect x="656" y="336" width="11" height="73" fill="#000"/>
<rect x="657" y="337" width="9" height="71" fill="#ff0000"/>
<rect x="677" y="325" width="1" height="18" fill="#000"/>
<rect x="672" y="335" width="11" height="2" fill="#000"/>
<rect x="693" y="335" width="1" height="8" fill="#000"/>
<rect x="688" y="337" width="11" height="1" fill="#000"/>
<rect x="709" y="335" width="1" height="29" fill="#000"/>
<rect x="704" y="337" width="11" height="25" fill="#000"/>
<rect x="705" y="338" width="9" height="23" fill="#00ff00"/>
<rect x="725" y="348" width="1" height="26" fill="#000"/>
<rect x="720" y="359" width="11" height="2" fill="#000"/>
<rect x="741" y="349" width="1" height="48" fill="#000"/>
<rect x="736" y="359" width="11" height="34" fill="#000"/>
<rect x="737" y="360" width="9" height="32" fill="#00ff00"/>
<rect x="757" y="336" width="1" height="83" fill="#000"/>
<rect x="752" y="339" width="11" height="54" fill="#000"/>
<rect x="753" y="340" width="9" height="52" fill="#ff0000"/>
<rect x="773" y="308" width="1" height="36" fill="#000"/>
<rect x="768" y="314" width="11" height="26" fill="#000"/>
<rect x="769" y="315" width="9" height="24" fill="#ff0000"/>
<rect x="789" y="310" width="1" height="9" fill="#000"/>
<rect x="784" y="312" width="11" height="3" fill="#000"/>
<rect x="785" y="313" width="9" height="1" fill="#ff0000"/>
<rect x="805" y="297" width="1" height="22" fill="#000"/>
<rect x="800" y="299" width="11" height="14" fill="#000"/>
<rect x="801" y="300" width="9" height="12" fill="#ff0000"/>
<rect x="821" y="266" width="1" height="44" fill="#000"/>
<rect x="816" y="299" width="11" height="5" fill="#000"/>
<rect x="817" y="300" width="9" height="3" fill="#00ff00"/>
<rect x="837" y="246" width="1" height="61" fill="#000"/>
<rect x="832" y="265" width="11" height="39" fill="#000"/>
<rect x="833" y="266" width="9" height="37" fill="#ff0000"/>
<rect x="853" y="263" width="1" height="29" fill="#000"/>
<rect x="848" y="265" width="11" height="15" fill="#000"/>
<rect x="849" y="266" width="9" height="13" fill="#00ff00"/>
<rect x="869" y="248" width="1" height="34" fill="#000"/>
<rect x="864" y="249" width="11" height="31" fill="#000"/>
<rect x="865" y="250" width="9" height="29" fill="#ff0000"/>
<rect x="885" y="241" width="1" height="11" fill="#000"/>
<rect x="880" y="247" width="11" height="3" fill="#000"/>
<rect x="881" y="248" width="9" height="1" fill="#ff0000"/>
<rect x="901" y="213" width="1" height="36" fill="#000"/>
<rect x="896" y="223" width="11" height="24" fill="#000"/>
<rect x="897" y="224" width="9" height="22" fill="#ff0000"/>
<rect x="917" y="215" width="1" height="31" fill="#000"/>
<rect x="912" y="223" width="11" height="18" fill="#000"/>
<rect x="913" y="224" width="9" height="16" fill="#00ff00"/>
<rect x="933" y="236" width="1" height="37" fill="#000"/>
<rect x="928" y="241" width="11" height="28" fill="#000"/>
<rect x="929" y="242" width="9" height="26" fill="#00ff00"/>
<rect x="949" y="184" width="1" height="91" fill="#000"/>
<rect x="944" y="193" width="11" height="76" fill="#000"/>
<rect x="945" y="194" width="9" height="74" fill="#ff0000"/>
<rect x="965" y="185" width="1" height="23" fill="#000"/>
<rect x="960" y="191" width="11" height="3" fill="#000"/>
<rect x="961" y="192" width="9" height="1" fill="#ff0000"/>
<rect x="981" y="188" width="1" height="10" fill="#000"/>
<rect x="976" y="188" width="11" height="4" fill="#000"/>
<rect x="977" y="189" width="9" height="2" fill="#ff0000"/>
<rect x="997" y="167" width="1" height="29" fill="#000"/>
<rect x="992" y="174" width="11" height="15" fill="#000"/>
<rect x="993" y="175" width="9" height="13" fill="#ff0000"/>
<rect x="1013" y="156" width="1" height="46" fill="#000"/>
<rect x="1008" y="160" width="11" height="14" fill="#000"/>
<rect x="1009" y="161" width="9" height="12" fill="#ff0000"/>
<rect x="1029" y="110" width="1" height="51" fill="#000"/>
<rect x="1024" y="126" width="11" height="35" fill="#000"/>
<rect x="1025" y="127" width="9" height="33" fill="#ff0000"/>
<rect x="1045" y="78" width="1" height="65" fill="#000"/>
<rect x="1040" y="96" width="11" height="31" fill="#000"/>
<rect x="1041" y="97" width="9" height="29" fill="#ff0000"/>
<rect x="1061" y="53" width="1" height="45" fill="#000"/>
<rect x="1056" y="60" width="11" height="36" fill="#000"/>
<rect x="1057" y="61" width="9" height="34" fill="#ff0000"/>
<rect x="1077" y="55" width="1" height="11" fill="#000"/>
<rect x="1072" y="60" width="11" height="6" fill="#000"/>
<rect x="1073" y="61" width="9" height="4" fill="#00ff00"/>
<rect x="1093" y="51" width="1" height="25" fill="#000"/>
<rect x="1088" y="55" width="11" height="11" fill="#000"/>
<rect x="1089" y="56" width="9" height="9" fill="#ff0000"/>
<rect x="1109" y="55" width="1" height="43" fill="#000"/>
<rect x="1104" y="55" width="11" height="22" fill="#000"/>
<rect x="1105" y="56" width="9" height="20" fill="#00ff00"/>
<rect x="1125" y="51" width="1" height="39" fill="#000"/>
<rect x="1120" y="76" width="11" height="4" fill="#000"/>
<rect x="1121" y="77" width="9" height="2" fill="#00ff00"/>
<rect x="1141" y="63" width="1" height="35" fill="#000"/>
<rect x="1136" y="79" width="11" height="3" fill="#000"/>
<rect x="1137" y="80" width="9" height="1" fill="#00ff00"/>
<rect x="1157" y="75" width="1" height="17" fill="#000"/>
<rect x="1152" y="81" width="11" height="8" fill="#000"/>
<rect x="1153" y="82" width="9" height="6" fill="#00ff00"/>
<rect x="1173" y="98" width="1" height="6" fill="#000"/>
<rect x="1168" y="98" width="11" height="4" fill="#000"/>
<rect x="1169" y="99" width="9" height="2" fill="#00ff00"/>
<rect x="1189" y="94" width="1" height="15" fill="#000"/>
<rect x="1184" y="101" width="11" height="3" fill="#000"/>
<rect x="1185" y="102" width="9" height="1" fill="#00ff00"/>
<rect x="1205" y="84" width="1" height="41" fill="#000"/>
<rect x="1200" y="88" width="11" height="16" fill="#000"/>
<rect x="1201" y="89" width="9" height="14" fill="#ff0000"/>
<rect x="1221" y="82" width="1" height="37" fill="#000"/>
<rect x="1216" y="88" width="11" height="18" fill="#000"/>
<rect x="1217" y="89" width="9" height="16" fill="#00ff00"/>
<rect x="1237" y="98" width="1" height="40" fill="#000"/>
<rect x="1232" y="105" width="11" height="10" fill="#000"/>
<rect x="1233" y="106" width="9" height="8" fill="#00ff00"/>
<rect x="1253" y="103" width="1" height="14" fill="#000"/>
<rect x="1248" y="111" width="11" height="5" fill="#000"/>
<rect x="1249" y="112" width="9" height="3" fill="#ff0000"/>
<rect x="1269" y="111" width="1" height="9" fill="#000"/>
<rect x="1264" y="111" width="11" height="5" fill="#000"/>
<rect x="1265" y="112" width="9" height="3" fill="#00ff00"/>
</g>
<g shape-rendering="crispEdges">
<rect x="5" y="32" width="1639" height="2" fill="#ff0000"/>
<rect x="4" y="30" width="6" height="6" fill="#ff0000"/>
<rect x="6" y="32" width="2" height="2" fill="#fff"/>
<rect x="1638" y="30" width="6" height="6" fill="#ff0000"/>
<rect x="1640" y="32" width="2" height="2" fill="#fff"/>
<rect x="5" y="66" width="1639" height="2" fill="#ff0000"/>
<rect x="4" y="64" width="6" height="6" fill="#ff0000"/>
<rect x="6" y="66" width="2" height="2" fill="#fff"/>
<rect x="1638" y="64" width="6" height="6" fill="#ff0000"/>
<rect x="1640" y="66" width="2" height="2" fill="#fff"/>
<rect x="5" y="95" width="1639" height="2" fill="#32cd32"/>
<rect x="4" y="93" width="6" height="6" fill="#32cd32"/>
<rect x="6" y="95" width="2" height="2" fill="#fff"/>
<rect x="1638" y="93" width="6" height="6" fill="#32cd32"/>
<rect x="1640" y="95" width="2" height="2" fill="#fff"/>
<rect x="5" y="148" width="1639" height="2" fill="#0000ff"/>
<rect x="5" y="180" width="1639" height="2" fill="#0000ff"/>
<rect x="4" y="178" width="6" height="6" fill="#0000ff"/>
<rect x="6" y="180" width="2" height="2" fill="#fff"/>
<rect x="1638" y="178" width="6" height="6" fill="#0000ff"/>
<rect x="1640" y="180" width="2" height="2" fill="#fff"/>
</g>
<polygon points="7.7,30.9 15.3,30.9 11.5,35.3" fill="#000"/>
<line x1="1256.1" y1="43.6" x2="1312" y2="60" stroke="#4a9c2d" stroke-width="3"/>
<polygon points="1327,64.5 1313,51.5 1308,68" fill="#4a9c2d"/>
<g shape-rendering="crispEdges">
<rect x="4" y="665" width="3" height="17" fill="#00ff00"/>
<rect x="20" y="665" width="3" height="20" fill="#00ff00"/>
<rect x="36" y="665" width="3" height="23" fill="#00ff00"/>
<rect x="52" y="665" width="3" height="24" fill="#00ff00"/>
<rect x="68" y="665" width="3" height="24" fill="#00ff00"/>
<rect x="84" y="665" width="3" height="26" fill="#00ff00"/>
<rect x="100" y="665" width="3" height="28" fill="#00ff00"/>
<rect x="116" y="665" width="3" height="29" fill="#00ff00"/>
<rect x="132" y="665" width="3" height="29" fill="#00ff00"/>
<rect x="148" y="665" width="3" height="28" fill="#00ff00"/>
<rect x="164" y="665" width="3" height="24" fill="#00ff00"/>
<rect x="180" y="665" width="3" height="19" fill="#00ff00"/>
<rect x="196" y="665" width="3" height="15" fill="#00ff00"/>
<rect x="212" y="665" width="3" height="11" fill="#00ff00"/>
<rect x="228" y="665" width="3" height="8" fill="#00ff00"/>
<rect x="244" y="665" width="3" height="8" fill="#00ff00"/>
<rect x="260" y="665" width="3" height="7" fill="#00ff00"/>
<rect x="276" y="665" width="3" height="5" fill="#00ff00"/>
<rect x="292" y="665" width="3" height="3" fill="#00ff00"/>
<rect x="308" y="665" width="3" height="2" fill="#00ff00"/>
<rect x="324" y="665" width="3" height="1" fill="#00ff00"/>
<rect x="340" y="664" width="3" height="1" fill="#00ff00"/>
<rect x="356" y="662" width="3" height="3" fill="#00ff00"/>
<rect x="372" y="659" width="3" height="6" fill="#00ff00"/>
<rect x="388" y="658" width="3" height="7" fill="#00ff00"/>
<rect x="404" y="657" width="3" height="8" fill="#00ff00"/>
<rect x="420" y="657" width="3" height="8" fill="#00ff00"/>
<rect x="436" y="657" width="3" height="8" fill="#00ff00"/>
<rect x="452" y="658" width="3" height="7" fill="#00ff00"/>
<rect x="468" y="658" width="3" height="7" fill="#00ff00"/>
<rect x="484" y="658" width="3" height="7" fill="#00ff00"/>
<rect x="500" y="658" width="3" height="7" fill="#00ff00"/>
<rect x="516" y="660" width="3" height="5" fill="#00ff00"/>
<rect x="532" y="658" width="3" height="7" fill="#00ff00"/>
<rect x="548" y="654" width="3" height="11" fill="#00ff00"/>
<rect x="564" y="655" width="3" height="10" fill="#00ff00"/>
<rect x="580" y="654" width="3" height="11" fill="#00ff00"/>
<rect x="596" y="653" width="3" height="12" fill="#00ff00"/>
<rect x="612" y="653" width="3" height="12" fill="#00ff00"/>
<rect x="628" y="653" width="3" height="12" fill="#00ff00"/>
<rect x="644" y="652" width="3" height="13" fill="#00ff00"/>
<rect x="660" y="645" width="3" height="20" fill="#00ff00"/>
<rect x="676" y="640" width="3" height="25" fill="#00ff00"/>
<rect x="692" y="636" width="3" height="29" fill="#00ff00"/>
<rect x="708" y="635" width="3" height="30" fill="#00ff00"/>
<rect x="724" y="635" width="3" height="30" fill="#00ff00"/>
<rect x="740" y="638" width="3" height="27" fill="#00ff00"/>
<rect x="756" y="636" width="3" height="29" fill="#00ff00"/>
<rect x="772" y="633" width="3" height="32" fill="#00ff00"/>
<rect x="788" y="631" width="3" height="34" fill="#00ff00"/>
<rect x="804" y="629" width="3" height="36" fill="#00ff00"/>
<rect x="820" y="628" width="3" height="37" fill="#00ff00"/>
<rect x="836" y="624" width="3" height="41" fill="#00ff00"/>
<rect x="852" y="623" width="3" height="42" fill="#00ff00"/>
<rect x="868" y="620" width="3" height="45" fill="#00ff00"/>
<rect x="884" y="619" width="3" height="46" fill="#00ff00"/>
<rect x="900" y="616" width="3" height="49" fill="#00ff00"/>
<rect x="916" y="616" width="3" height="49" fill="#00ff00"/>
<rect x="932" y="618" width="3" height="47" fill="#00ff00"/>
<rect x="948" y="615" width="3" height="50" fill="#00ff00"/>
<rect x="964" y="613" width="3" height="52" fill="#00ff00"/>
<rect x="980" y="611" width="3" height="54" fill="#00ff00"/>
<rect x="996" y="610" width="3" height="55" fill="#00ff00"/>
<rect x="1012" y="608" width="3" height="57" fill="#00ff00"/>
<rect x="1028" y="605" width="3" height="60" fill="#00ff00"/>
<rect x="1044" y="600" width="3" height="65" fill="#00ff00"/>
<rect x="1060" y="595" width="3" height="70" fill="#00ff00"/>
<rect x="1076" y="592" width="3" height="73" fill="#00ff00"/>
<rect x="1092" y="590" width="3" height="75" fill="#00ff00"/>
<rect x="1108" y="590" width="3" height="75" fill="#00ff00"/>
<rect x="1124" y="592" width="3" height="73" fill="#00ff00"/>
<rect x="1140" y="594" width="3" height="71" fill="#00ff00"/>
<rect x="1156" y="597" width="3" height="68" fill="#00ff00"/>
<rect x="1172" y="602" width="3" height="63" fill="#00ff00"/>
<rect x="1188" y="606" width="3" height="59" fill="#00ff00"/>
<rect x="1204" y="609" width="3" height="56" fill="#00ff00"/>
<rect x="1220" y="613" width="3" height="52" fill="#00ff00"/>
<rect x="1236" y="617" width="3" height="48" fill="#00ff00"/>
<rect x="1252" y="621" width="3" height="44" fill="#00ff00"/>
<rect x="1268" y="625" width="3" height="40" fill="#00ff00"/>
<rect x="1284" y="629" width="3" height="36" fill="#00ff00"/>
</g>
<defs><clipPath id="cm"><rect x="5" y="584" width="1639" height="115"/></clipPath><clipPath id="cr"><rect x="5" y="702" width="1639" height="122"/></clipPath></defs>
<polyline clip-path="url(#cm)" points="-11,670.8 5,670.8 21,670.8 37,673 53,675.8 69,677.9 85,681 101,684 117,687.5 133,689.5 149,689.5 165,689.5 181,689.5 197,689.5 213,687.3 229,685 245,683 261,681.5 277,678.7 293,675.8 309,673.8 325,671.6 341,669.8 357,668.4 373,666.4 389,665.4 405,663.4 421,662.8 437,661.4 453,660.4 469,659.4 485,658.4 501,658 517,658 533,658 549,658 565,658 581,657.4 597,657 613,656.4 629,656 645,655.3 661,653.3 677,651.3 693,649.3 709,647.5 725,645.5 741,643.5 757,641.5 773,639.5 789,637.5 805,635.5 821,633.2 837,632.2 853,631.2 869,629.2 885,627.4 901,625.4 917,623.4 933,621.4 949,620.4 965,618.4 981,617.4 997,615.2 1013,614.1 1029,612.5 1045,611.5 1061,608.1 1077,605.1 1093,603.1 1109,600.5 1125,598.5 1141,596.5 1157,595.5 1173,595.1 1189,595.1 1205,597.3 1221,599.4 1237,602.4 1253,606.3 1269,609.4 1285,613" fill="none" stroke="#ff0000" stroke-width="2" shape-rendering="crispEdges"/>
<g shape-rendering="crispEdges">
<line x1="5" y1="727.5" x2="1644" y2="727.5" stroke="#000" stroke-width="1" stroke-dasharray="3 3" stroke-dashoffset="-1"/>
<line x1="5" y1="763.5" x2="1644" y2="763.5" stroke="#000" stroke-width="1" stroke-dasharray="3 3" stroke-dashoffset="-1"/>
<line x1="5" y1="805.5" x2="1644" y2="805.5" stroke="#000" stroke-width="1" stroke-dasharray="3 3" stroke-dashoffset="-1"/>
</g>
<polyline clip-path="url(#cr)" points="-11,786 5,786 21,786 37,787.8 53,780.4 69,776.6 85,784.8 101,784.8 117,784.8 133,783.4 149,774.4 165,771.7 181,754.7 197,757.9 213,757.9 229,757.9 245,766.7 261,764.3 277,759.9 293,759.9 309,759.9 325,760.7 341,758.7 357,752.3 373,749.6 389,754.7 405,754.7 421,757.9 437,757.9 453,760.7 469,758.9 485,760.7 501,760.7 517,763.9 533,752.7 549,741.6 565,758.9 581,753.9 597,753.9 613,756.7 629,756.7 645,750.2 661,737.8 677,737.8 693,737.8 709,745.8 725,745.8 741,756.9 757,745.8 773,742.2 789,741.8 805,740.8 821,741.8 837,736.8 853,740.8 869,737.2 885,736.2 901,733.8 917,739.6 933,747.8 949,737.2 965,736.8 981,736.8 997,735.4 1013,733.2 1029,730.1 1045,727.5 1061,724.9 1077,725.9 1093,725.9 1109,732.6 1125,733.6 1141,734.2 1157,737.2 1173,741.6 1189,741.6 1205,740 1221,746.6 1237,748.8 1253,748.8 1269,749.8 1285,749.8" fill="none" stroke="#1e90ff" stroke-width="2" shape-rendering="crispEdges"/>
<text transform="translate(8.6,596) rotate(0.05) scale(0.9501,1)" font-size="10" fill="#000" stroke="#000" stroke-width="0.22">MACD(12,26,9)</text>
<text transform="translate(78,596) rotate(0.05) scale(0.9159,1)" font-size="10" fill="#000" stroke="#000" stroke-width="0.22">0.003985</text>
<text transform="translate(119.1,596) rotate(0.05) scale(0.9159,1)" font-size="10" fill="#000" stroke="#000" stroke-width="0.22">0.005663</text>
<text transform="translate(8.6,714) rotate(0.05) scale(0.9288,1)" font-size="10" fill="#000" stroke="#000" stroke-width="0.22">RSI(14)</text>
<text transform="translate(43.2,714) rotate(0.05) scale(0.9351,1)" font-size="10" fill="#000" stroke="#000" stroke-width="0.22">60.7157</text>
<g shape-rendering="crispEdges">
<rect x="1645" y="116" width="2" height="1" fill="#000"/>
<rect x="1645" y="149" width="2" height="1" fill="#000"/>
<rect x="1645" y="182" width="2" height="1" fill="#000"/>
<rect x="1645" y="50" width="2" height="1" fill="#000"/>
<text transform="translate(1650.4,54) rotate(0.05) scale(0.9000,1)" font-size="10" fill="#000" stroke="#000" stroke-width="0.22">1.31430</text>
<rect x="1645" y="83" width="2" height="1" fill="#000"/>
<text transform="translate(1650.4,87) rotate(0.05) scale(0.9000,1)" font-size="10" fill="#000" stroke="#000" stroke-width="0.22">1.31080</text>
<rect x="1645" y="215" width="2" height="1" fill="#000"/>
<text transform="translate(1650.4,219) rotate(0.05) scale(0.9000,1)" font-size="10" fill="#000" stroke="#000" stroke-width="0.22">1.29660</text>
<rect x="1645" y="248" width="2" height="1" fill="#000"/>
<text transform="translate(1650.4,252) rotate(0.05) scale(0.9000,1)" font-size="10" fill="#000" stroke="#000" stroke-width="0.22">1.29310</text>
<rect x="1645" y="281" width="2" height="1" fill="#000"/>
<text transform="translate(1650.4,285) rotate(0.05) scale(0.9000,1)" font-size="10" fill="#000" stroke="#000" stroke-width="0.22">1.28960</text>
<rect x="1645" y="314" width="2" height="1" fill="#000"/>
<text transform="translate(1650.4,318) rotate(0.05) scale(0.9000,1)" font-size="10" fill="#000" stroke="#000" stroke-width="0.22">1.28610</text>
<rect x="1645" y="347" width="2" height="1" fill="#000"/>
<text transform="translate(1650.4,351) rotate(0.05) scale(0.9000,1)" font-size="10" fill="#000" stroke="#000" stroke-width="0.22">1.28250</text>
<rect x="1645" y="380" width="2" height="1" fill="#000"/>
<text transform="translate(1650.4,384) rotate(0.05) scale(0.9000,1)" font-size="10" fill="#000" stroke="#000" stroke-width="0.22">1.27900</text>
<rect x="1645" y="413" width="2" height="1" fill="#000"/>
<text transform="translate(1650.4,417) rotate(0.05) scale(0.9000,1)" font-size="10" fill="#000" stroke="#000" stroke-width="0.22">1.27550</text>
<rect x="1645" y="446" width="2" height="1" fill="#000"/>
<text transform="translate(1650.4,450) rotate(0.05) scale(0.9000,1)" font-size="10" fill="#000" stroke="#000" stroke-width="0.22">1.27200</text>
<rect x="1645" y="479" width="2" height="1" fill="#000"/>
<text transform="translate(1650.4,483) rotate(0.05) scale(0.9000,1)" font-size="10" fill="#000" stroke="#000" stroke-width="0.22">1.26840</text>
<rect x="1645" y="512" width="2" height="1" fill="#000"/>
<text transform="translate(1650.4,516) rotate(0.05) scale(0.9000,1)" font-size="10" fill="#000" stroke="#000" stroke-width="0.22">1.26490</text>
<rect x="1645" y="545" width="2" height="1" fill="#000"/>
<text transform="translate(1650.4,549) rotate(0.05) scale(0.9000,1)" font-size="10" fill="#000" stroke="#000" stroke-width="0.22">1.26140</text>
<rect x="1645" y="578" width="2" height="1" fill="#000"/>
<text transform="translate(1650.4,582) rotate(0.05) scale(0.9000,1)" font-size="10" fill="#000" stroke="#000" stroke-width="0.22">1.25790</text>
</g>
<rect x="1645" y="115" width="1" height="1" fill="#000" shape-rendering="crispEdges"/>
<rect x="1646" y="27" width="41" height="11" fill="#ff0000" shape-rendering="crispEdges"/>
<text transform="translate(1650.4,36) rotate(0.05) scale(0.9000,1)" font-size="10" fill="#fff" stroke="#fff" stroke-width="0.22">1.31611</text>
<rect x="1646" y="61" width="41" height="11" fill="#ff0000" shape-rendering="crispEdges"/>
<text transform="translate(1650.4,70) rotate(0.05) scale(0.9000,1)" font-size="10" fill="#fff" stroke="#fff" stroke-width="0.22">1.31250</text>
<rect x="1646" y="90" width="41" height="11" fill="#32cd32" shape-rendering="crispEdges"/>
<text transform="translate(1650.4,99) rotate(0.05) scale(0.9000,1)" font-size="10" fill="#fff" stroke="#fff" stroke-width="0.22">1.30933</text>
<rect x="1646" y="110" width="41" height="11" fill="#000" shape-rendering="crispEdges"/>
<text transform="translate(1650.4,119) rotate(0.05) scale(0.9000,1)" font-size="10" fill="#fff" stroke="#fff" stroke-width="0.22">1.30733</text>
<rect x="1646" y="143" width="41" height="11" fill="#0000ff" shape-rendering="crispEdges"/>
<text transform="translate(1650.4,152) rotate(0.05) scale(0.9000,1)" font-size="10" fill="#fff" stroke="#fff" stroke-width="0.22">1.30367</text>
<rect x="1646" y="175" width="41" height="11" fill="#0000ff" shape-rendering="crispEdges"/>
<text transform="translate(1650.4,184) rotate(0.05) scale(0.9000,1)" font-size="10" fill="#fff" stroke="#fff" stroke-width="0.22">1.30026</text>
<text transform="translate(1648,594) rotate(0.05) scale(0.9000,1)" font-size="10" fill="#000" stroke="#000" stroke-width="0.22">0.008782</text>
<rect x="1645" y="585" width="1" height="1" fill="#000" shape-rendering="crispEdges"/>
<rect x="1645" y="665" width="2" height="1" fill="#000" shape-rendering="crispEdges"/>
<text transform="translate(1648,669) rotate(0.05) scale(0.9000,1)" font-size="10" fill="#000" stroke="#000" stroke-width="0.22">0.00</text>
<text transform="translate(1648,696) rotate(0.05) scale(0.9000,1)" font-size="10" fill="#000" stroke="#000" stroke-width="0.22">-0.003637</text>
<text transform="translate(1648,712.5) rotate(0.05) scale(0.9000,1)" font-size="10" fill="#000" stroke="#000" stroke-width="0.22">100</text>
<text transform="translate(1648,731) rotate(0.05) scale(0.9000,1)" font-size="10" fill="#000" stroke="#000" stroke-width="0.22">80</text>
<text transform="translate(1648,767) rotate(0.05) scale(0.9000,1)" font-size="10" fill="#000" stroke="#000" stroke-width="0.22">50</text>
<text transform="translate(1648,809) rotate(0.05) scale(0.9000,1)" font-size="10" fill="#000" stroke="#000" stroke-width="0.22">15</text>
<text transform="translate(1648,821) rotate(0.05) scale(0.9000,1)" font-size="10" fill="#000" stroke="#000" stroke-width="0.22">0</text>
<g shape-rendering="crispEdges">
<rect x="5" y="825" width="1" height="3" fill="#000"/>
<text transform="translate(4,837) rotate(0.05) scale(0.9000,1)" font-size="10" fill="#000" stroke="#000" stroke-width="0.22">28 Jun 2023</text>
<rect x="69" y="825" width="1" height="3" fill="#000"/>
<text transform="translate(68,837) rotate(0.05) scale(0.9000,1)" font-size="10" fill="#000" stroke="#000" stroke-width="0.22">29 Jun 08:00</text>
<rect x="133" y="825" width="1" height="3" fill="#000"/>
<text transform="translate(132,837) rotate(0.05) scale(0.9000,1)" font-size="10" fill="#000" stroke="#000" stroke-width="0.22">30 Jun 00:00</text>
<rect x="197" y="825" width="1" height="3" fill="#000"/>
<text transform="translate(196,837) rotate(0.05) scale(0.9000,1)" font-size="10" fill="#000" stroke="#000" stroke-width="0.22">30 Jun 16:00</text>
<rect x="261" y="825" width="1" height="3" fill="#000"/>
<text transform="translate(260,837) rotate(0.05) scale(0.9225,1)" font-size="10" fill="#000" stroke="#000" stroke-width="0.22">3 Jul 08:00</text>
<rect x="325" y="825" width="1" height="3" fill="#000"/>
<text transform="translate(324,837) rotate(0.05) scale(0.9225,1)" font-size="10" fill="#000" stroke="#000" stroke-width="0.22">4 Jul 00:00</text>
<rect x="389" y="825" width="1" height="3" fill="#000"/>
<text transform="translate(388,837) rotate(0.05) scale(0.9225,1)" font-size="10" fill="#000" stroke="#000" stroke-width="0.22">4 Jul 16:00</text>
<rect x="453" y="825" width="1" height="3" fill="#000"/>
<text transform="translate(452,837) rotate(0.05) scale(0.9225,1)" font-size="10" fill="#000" stroke="#000" stroke-width="0.22">5 Jul 08:00</text>
<rect x="517" y="825" width="1" height="3" fill="#000"/>
<text transform="translate(516,837) rotate(0.05) scale(0.9225,1)" font-size="10" fill="#000" stroke="#000" stroke-width="0.22">6 Jul 00:00</text>
<rect x="581" y="825" width="1" height="3" fill="#000"/>
<text transform="translate(580,837) rotate(0.05) scale(0.9225,1)" font-size="10" fill="#000" stroke="#000" stroke-width="0.22">6 Jul 16:00</text>
<rect x="645" y="825" width="1" height="3" fill="#000"/>
<text transform="translate(644,837) rotate(0.05) scale(0.9225,1)" font-size="10" fill="#000" stroke="#000" stroke-width="0.22">7 Jul 08:00</text>
<rect x="709" y="825" width="1" height="3" fill="#000"/>
<text transform="translate(708,837) rotate(0.05) scale(0.9225,1)" font-size="10" fill="#000" stroke="#000" stroke-width="0.22">10 Jul 00:00</text>
<rect x="773" y="825" width="1" height="3" fill="#000"/>
<text transform="translate(772,837) rotate(0.05) scale(0.9225,1)" font-size="10" fill="#000" stroke="#000" stroke-width="0.22">10 Jul 16:00</text>
<rect x="837" y="825" width="1" height="3" fill="#000"/>
<text transform="translate(836,837) rotate(0.05) scale(0.9225,1)" font-size="10" fill="#000" stroke="#000" stroke-width="0.22">11 Jul 08:00</text>
<rect x="901" y="825" width="1" height="3" fill="#000"/>
<text transform="translate(900,837) rotate(0.05) scale(0.9225,1)" font-size="10" fill="#000" stroke="#000" stroke-width="0.22">12 Jul 00:00</text>
<rect x="965" y="825" width="1" height="3" fill="#000"/>
<text transform="translate(964,837) rotate(0.05) scale(0.9225,1)" font-size="10" fill="#000" stroke="#000" stroke-width="0.22">12 Jul 16:00</text>
<rect x="1029" y="825" width="1" height="3" fill="#000"/>
<text transform="translate(1028,837) rotate(0.05) scale(0.9225,1)" font-size="10" fill="#000" stroke="#000" stroke-width="0.22">13 Jul 08:00</text>
<rect x="1093" y="825" width="1" height="3" fill="#000"/>
<text transform="translate(1092,837) rotate(0.05) scale(0.9225,1)" font-size="10" fill="#000" stroke="#000" stroke-width="0.22">14 Jul 00:00</text>
<rect x="1157" y="825" width="1" height="3" fill="#000"/>
<text transform="translate(1156,837) rotate(0.05) scale(0.9225,1)" font-size="10" fill="#000" stroke="#000" stroke-width="0.22">14 Jul 16:00</text>
<rect x="1221" y="825" width="1" height="3" fill="#000"/>
<text transform="translate(1220,837) rotate(0.05) scale(0.9225,1)" font-size="10" fill="#000" stroke="#000" stroke-width="0.22">17 Jul 08:00</text>
<rect x="1285" y="825" width="1" height="3" fill="#000"/>
<text transform="translate(1284,837) rotate(0.05) scale(0.9225,1)" font-size="10" fill="#000" stroke="#000" stroke-width="0.22">17 Jul 22:00</text>
</g>
</svg>
</body></html>
